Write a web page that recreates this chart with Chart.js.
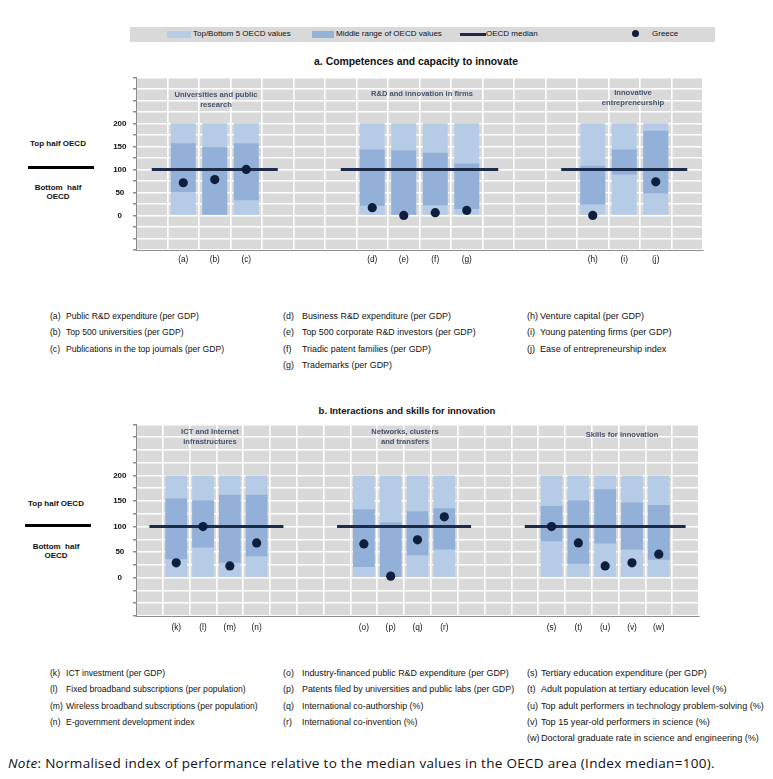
<!DOCTYPE html>
<html><head><meta charset="utf-8">
<script src="https://cdn.jsdelivr.net/npm/chart.js@4"></script>
<style>
body{margin:0;width:773px;height:779px;background:#fff;position:relative;overflow:hidden;font-family:"Liberation Sans Narrow","Arial Narrow","Liberation Sans",Arial,sans-serif;color:#111}
.a{position:absolute;white-space:nowrap;line-height:1}
.c{transform:translateX(-50%);text-align:center}
.grp{font-size:7.6px;font-weight:bold;color:#44546a;line-height:10px}
.side{font-size:8px;font-weight:bold;color:#111;line-height:9px}
.fn{font-size:8.5px;color:#111}
.ttl{font-size:9.5px;font-weight:bold}
canvas{position:absolute}
</style></head><body>

<div class="a" style="left:130px;top:27px;width:585px;height:15px;background:#d9d9d9"></div>
<div class="a" style="left:167px;top:31px;width:24px;height:7px;background:#b8cce4"></div>
<div class="a fn" style="left:193px;top:30px;font-size:8px">Top/Bottom 5 OECD values</div>
<div class="a" style="left:312px;top:31px;width:22px;height:7px;background:#95b3d7"></div>
<div class="a fn" style="left:336px;top:30px;font-size:8px">Middle range of OECD values</div>
<div class="a" style="left:460px;top:33px;width:26px;height:3px;background:#1c2b4a"></div>
<div class="a fn" style="left:486px;top:30px;font-size:8px">OECD median</div>
<div class="a" style="left:632px;top:30px;width:7px;height:7px;border-radius:50%;background:#0e1f3e"></div>
<div class="a fn" style="left:652px;top:30px;font-size:8px">Greece</div>

<div class="a ttl c" style="left:416px;top:57px;font-size:10.4px">a. Competences and capacity to innovate</div>
<div class="a ttl c" style="left:407px;top:406px">b. Interactions and skills for innovation</div>

<div class="a side c" style="left:58px;top:139px">Top half OECD</div>
<div class="a" style="left:28px;top:166px;width:66px;height:3px;background:#000"></div>
<div class="a side c" style="left:58px;top:183px">Bottom&nbsp; half<br>OECD</div>

<div class="a side c" style="left:56px;top:499px">Top half OECD</div>
<div class="a" style="left:25px;top:524px;width:66px;height:3px;background:#000"></div>
<div class="a side c" style="left:56px;top:542px">Bottom&nbsp; half<br>OECD</div>

<canvas id="ca" width="610" height="204" style="left:100px;top:66px;width:610px;height:204px"></canvas>
<canvas id="cb" width="610" height="235" style="left:100px;top:413px;width:610px;height:235px"></canvas>

<div class="a grp c" style="left:216px;top:90px">Universities and public<br>research</div>
<div class="a grp c" style="left:422px;top:89px">R&amp;D and innovation in firms</div>
<div class="a grp c" style="left:633px;top:88px">Innovative<br>entrepreneurship</div>
<div class="a grp c" style="left:210px;top:427px">ICT and Internet<br>infrastructures</div>
<div class="a grp c" style="left:405px;top:427px">Networks, clusters<br>and transfers</div>
<div class="a grp c" style="left:622px;top:430px">Skills for innovation</div>

<div id="notesA"></div>
<div id="notesB"></div>

<div class="a" style="left:8px;top:757px;font-family:'Open Sans',sans-serif;font-size:13.5px;letter-spacing:0.3px;color:#111"><i>Note</i>: Normalised index of performance relative to the median values in the OECD area (Index median=100).</div>

<script>
// ---------- Panel a data ----------
const catsA = ['', '(a)', '(b)', '(c)', '', '', '', '(d)', '(e)', '(f)', '(g)', '', '', '', '(h)', '(i)', '(j)', ''];
const outerLowA  = [null, 0, 0, 0, null, null, null, 0, 0, 0, 0, null, null, null, 0, 0, 0, null];
const outerHighA = [null, 200, 200, 200, null, null, null, 200, 200, 200, 200, null, null, null, 200, 200, 200, null];
const midLowA    = [null, 51, 0, 33, null, null, null, 21, 0, 22, 14, null, null, null, 24, 89, 48, null];
const midHighA   = [null, 157, 148, 157, null, null, null, 143, 141, 136, 113, null, null, null, 108, 143, 184, null];
const greeceA    = [null, 71, 78, 100, null, null, null, 17, 0, 6, 11, null, null, null, 0, null, 73, null];
const medianA    = [100, 100, 100, 100, 100, null, 100, 100, 100, 100, 100, 100, null, 100, 100, 100, 100, 100];

// ---------- Panel b data ----------
const catsB = ['', '(k)', '(l)', '(m)', '(n)', '', '', '', '(o)', '(p)', '(q)', '(r)', '', '', '', '(s)', '(t)', '(u)', '(v)', '(w)', ''];
const outerLowB  = [null, 0, 0, 0, 0, null, null, null, 0, 0, 0, 0, null, null, null, 0, 0, 0, 0, 0, null];
const outerHighB = [null, 200, 200, 200, 200, null, null, null, 200, 200, 200, 200, null, null, null, 200, 200, 200, 200, 200, null];
const midLowB    = [null, 36, 59, 29, 42, null, null, null, 21, 0, 44, 55, null, null, null, 71, 27, 67, 55, 35, null];
const midHighB   = [null, 155, 151, 162, 162, null, null, null, 134, 108, 130, 136, null, null, null, 140, 151, 173, 147, 142, null];
const greeceB    = [null, 29, 100, 23, 68, null, null, null, 66, 3, 74, 119, null, null, null, 100, 68, 23, 29, 46, null];
const medianB    = [100, 100, 100, 100, 100, 100, null, 100, 100, 100, 100, 100, 100, null, 100, 100, 100, 100, 100, 100, 100];

const yTickLabels = [0, 50, 100, 150, 200];

// ---------- Footnotes ----------
const notesA = [
  [['(a)','Public R&D expenditure (per GDP)'],['(b)','Top 500 universities (per GDP)'],['(c)','Publications in the top journals (per GDP)']],
  [['(d)','Business R&D expenditure (per GDP)'],['(e)','Top 500 corporate R&D investors (per GDP)'],['(f)','Triadic patent families (per GDP)'],['(g)','Trademarks (per GDP)']],
  [['(h)','Venture capital (per GDP)'],['(i)','Young patenting firms (per GDP)'],['(j)','Ease of entrepreneurship index']]
];
const notesB = [
  [['(k)','ICT investment (per GDP)'],['(l)','Fixed broadband subscriptions (per population)'],['(m)','Wireless broadband subscriptions (per population)'],['(n)','E-government development index']],
  [['(o)','Industry-financed public R&D expenditure (per GDP)'],['(p)','Patents filed by universities and public labs (per GDP)'],['(q)','International co-authorship (%)'],['(r)','International co-invention (%)']],
  [['(s)','Tertiary education expenditure (per GDP)'],['(t)','Adult population at tertiary education level (%)'],['(u)','Top adult performers in technology problem-solving (%)'],['(v)','Top 15 year-old performers in science (%)'],['(w)','Doctoral graduate rate in science and engineering (%)']]
];

function writeNotes(id, notes, top, colX, textX, step, sizes){
  const el = document.getElementById(id);
  let html = '';
  notes.forEach((col, ci) => {
    col.forEach((n, ri) => {
      const y = top + ri*step;
      html += `<div class="a fn" style="left:${colX[ci]}px;top:${y}px;font-size:${sizes[ci]}px">${n[0]}</div>`;
      html += `<div class="a fn" style="left:${textX[ci]}px;top:${y}px;font-size:${sizes[ci]}px">${n[1].replace(/&/g,'&amp;')}</div>`;
    });
  });
  el.innerHTML = html;
}
writeNotes('notesA', notesA, 312, [50, 283, 527], [66, 302, 540], 16.4, [8.6, 8.9, 9.1]);
writeNotes('notesB', notesB, 669, [50, 283, 527], [66, 302, 541], 16.3, [8.6, 8.9, 9.1]);

const bgPlugin = {
  id: 'bg',
  beforeDraw(chart){
    const {ctx, chartArea:a} = chart;
    ctx.save(); ctx.fillStyle = '#d9d9d9';
    ctx.fillRect(a.left, a.top, a.right - a.left, a.bottom - a.top);
    ctx.restore();
  }
};

function makePanel(id, cats, oL, oH, mL, mH, gr, med, o){
  const pair = (lo, hi) => cats.map((_, i) => lo[i] == null ? null : [lo[i], hi[i]]);
  new Chart(document.getElementById(id), {
    type: 'bar',
    data: {
      labels: cats,
      datasets: [
        {type:'line', data: gr, showLine:false, pointRadius:4.6, pointHoverRadius:4.6, pointBackgroundColor:'#0e1f3e', pointBorderWidth:0, order:0},
        {type:'line', data: med, borderColor:'#1c2b4a', borderWidth:3, pointRadius:0, spanGaps:false, borderCapStyle:'butt', order:1},
        {data: pair(mL, mH), backgroundColor:'#93b1d8', grouped:false, barPercentage:o.bp, categoryPercentage:1, order:2},
        {data: pair(oL, oH), backgroundColor:'#b6cbe6', grouped:false, barPercentage:o.bp, categoryPercentage:1, order:3}
      ]
    },
    options: {
      responsive:false, animation:false, devicePixelRatio:1,
      layout:{padding:{top:o.pt, right:o.pr, left:0, bottom:0}},
      plugins:{legend:{display:false}, tooltip:{enabled:false}},
      scales:{
        x:{
          offset:true,
          grid:{offset:true, color:'#ffffff', lineWidth:1.6, drawTicks:false},
          border:{display:true, color:'#8c8c8c', width:1},
          ticks:{padding:o.xpad, color:'#111', font:{family:'"Liberation Sans Narrow","Arial Narrow","Liberation Sans",Arial', size:8.3}, autoSkip:false, maxRotation:0},
          afterFit(s){ s.height = o.xh; }
        },
        y:{
          min:-75, max:300,
          grid:{color:'#ffffff', lineWidth:1.5, tickColor:'#8c8c8c', tickLength:3},
          border:{display:true, color:'#8c8c8c', width:1},
          ticks:{stepSize:25, autoSkip:false, padding:6.5, crossAlign:'center', color:'#111',
            font:{family:'"Liberation Sans Narrow","Arial Narrow","Liberation Sans",Arial', size:8, weight:'bold'},
            callback:(v) => yTickLabels.includes(v) ? String(v) : ''},
          afterFit(s){ s.width = 36; }
        }
      }
    },
    plugins:[bgPlugin]
  });
}

makePanel('ca', catsA, outerLowA, outerHighA, midLowA, midHighA, greeceA, medianA, {bp:0.79, pt:10, pr:7, xh:20, xpad:5});
makePanel('cb', catsB, outerLowB, outerHighB, midLowB, midHighB, greeceB, medianB, {bp:0.81, pt:10, pr:11, xh:32, xpad:7});
</script>
</body></html>
